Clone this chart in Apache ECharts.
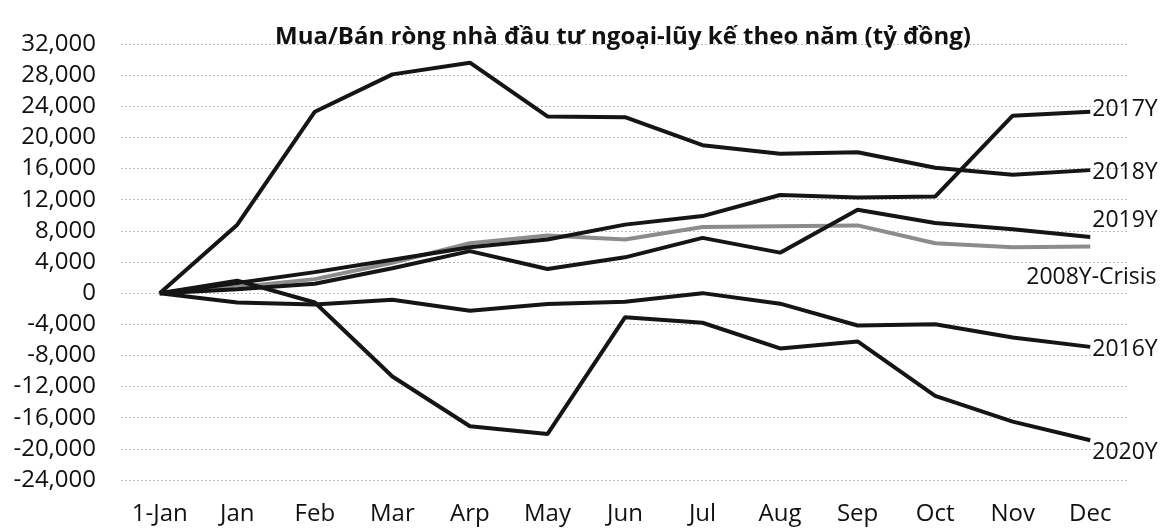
<html>
    <head>
        <meta charset="utf-8">
        <script src="https://cdn.jsdelivr.net/npm/echarts@6/dist/echarts.min.js"></script>
    </head>
    <body style="margin:0">
        <div id="main" style="width:1167px;height:529px"></div>

        <script>

            // Cumulative net buy/sell of foreign investors (bn VND)
            var months = ['1-Jan', 'Jan', 'Feb', 'Mar', 'Arp', 'May', 'Jun', 'Jul', 'Aug', 'Sep', 'Oct', 'Nov', 'Dec'];
            var yTicks = [-24000, 32000, 4000];

            var y2017 = [0, 1300, 2700, 4300, 5900, 6900, 8800, 9900, 12600, 12300, 12400, 22800, 23300];
            var y2018 = [0, 8800, 23300, 28100, 29600, 22700, 22600, 19000, 17900, 18100, 16100, 15200, 15800];
            var y2019 = [0, 500, 1200, 3200, 5400, 3100, 4600, 7100, 5200, 10700, 9000, 8200, 7200];
            var y2008 = [0, 800, 1800, 3900, 6400, 7400, 6900, 8500, 8600, 8700, 6400, 5900, 6000];
            var y2016 = [0, -1200, -1450, -850, -2250, -1400, -1100, 0, -1350, -4150, -4000, -5700, -6900];
            var y2020 = [0, 1600, -1200, -10700, -17100, -18100, -3100, -3800, -7100, -6200, -13200, -16500, -18900];

            var chart = echarts.init(document.getElementById('main'));

            var font = 'Open Sans';
            var ink = '#111';

            function makeLine(name, data, color, labelOffset) {
                return {
                    name: name,
                    type: 'line',
                    data: data,
                    symbol: 'none',
                    lineStyle: {color: color, width: 4},
                    endLabel: {
                        show: true,
                        formatter: name,
                        distance: 2,
                        offset: labelOffset,
                        color: ink,
                        fontFamily: font,
                        fontSize: 23
                    }
                };
            }

            chart.setOption({
                animation: false,
                backgroundColor: '#fff',
                title: {
                    text: 'Mua/Bán ròng nhà đầu tư ngoại-lũy kế theo năm (tỷ đồng)',
                    left: 618,
                    textAlign: 'center',
                    top: 20,
                    textStyle: {
                        fontFamily: font,
                        fontWeight: 'bold',
                        fontSize: 24,
                        color: ink
                    }
                },
                grid: {left: 121, right: 38, top: 44, bottom: 49},
                xAxis: {
                    type: 'category',
                    data: months,
                    boundaryGap: true,
                    axisLine: {show: false},
                    axisTick: {show: false},
                    axisLabel: {
                        margin: 22,
                        color: ink,
                        fontFamily: font,
                        fontSize: 24
                    }
                },
                yAxis: {
                    type: 'value',
                    min: yTicks[0],
                    max: yTicks[1],
                    interval: yTicks[2],
                    axisLine: {show: false},
                    axisTick: {show: false},
                    axisLabel: {
                        margin: 25,
                        color: ink,
                        fontFamily: font,
                        fontSize: 24,
                        formatter: function (v) {
                            return v.toLocaleString('en-US');
                        }
                    },
                    splitLine: {
                        lineStyle: {color: '#bdbdbd', type: [2, 2], width: 1}
                    }
                },
                series: [
                    makeLine('2008Y-Crisis', y2008, '#8c8c8c', [-66, 31]),
                    makeLine('2017Y', y2017, '#151515', [0, -2]),
                    makeLine('2018Y', y2018, '#151515', [0, 2]),
                    makeLine('2019Y', y2019, '#151515', [0, -17]),
                    makeLine('2016Y', y2016, '#151515', [0, 3]),
                    makeLine('2020Y', y2020, '#151515', [0, 12])
                ]
            });

        </script>
    </body>
</html>
